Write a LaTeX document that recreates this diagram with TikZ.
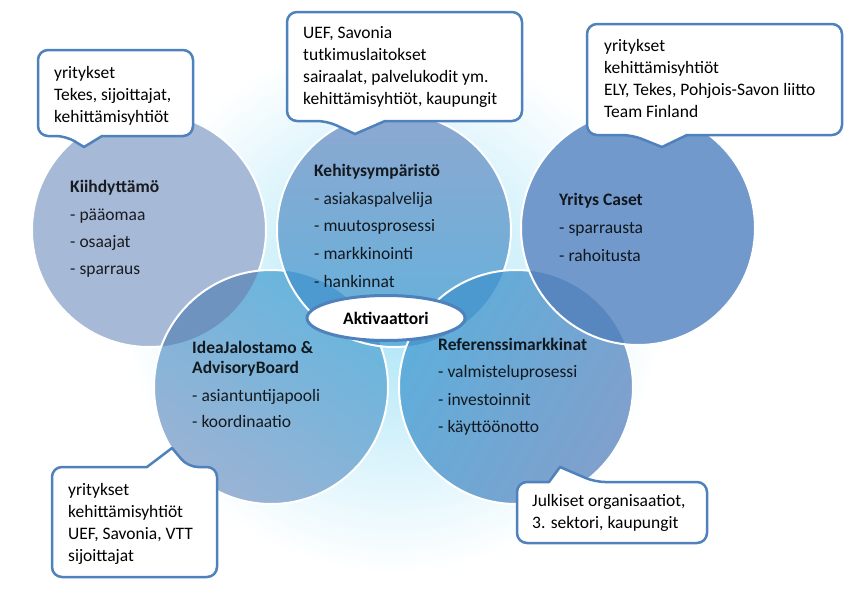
\documentclass[tikz,border=0pt]{standalone}
\usepackage{fontspec}
\setmainfont{Carlito}
\usetikzlibrary{shapes.geometric}
\definecolor{notecol}{HTML}{4F81BD}
\definecolor{glowcol}{HTML}{A9E4F7}
\definecolor{kiihcol}{HTML}{A6B9D6}
\definecolor{kehitop}{HTML}{8CA8D0}
\definecolor{kehibot}{HTML}{62B2DD}
\definecolor{yritcol}{HTML}{7199CB}
\definecolor{ideatop}{HTML}{66B5DE}
\definecolor{ideabot}{HTML}{9AB3D4}
\definecolor{refetop}{HTML}{5FAEDB}
\definecolor{refebot}{HTML}{80A0CC}
\definecolor{kiihidea}{HTML}{6E93BF}
\definecolor{ideakehi}{HTML}{4C9ACF}
\definecolor{kehirefe}{HTML}{4B99CE}
\definecolor{refeyrit}{HTML}{5886BF}
\begin{document}
\begin{tikzpicture}[x=1pt,y=-1pt,
  ring/.style={draw=white,line width=2pt},
  note/.style={draw=notecol,line width=2.5pt,fill=white,line join=round},
  notetext/.style={anchor=base west,align=left,inner sep=0pt,font=\fontsize{17.5}{21.7}\selectfont},
  circtext/.style={anchor=base west,align=left,inner sep=0pt,text opacity=0.85,font=\fontsize{17.5}{20}\selectfont}]
\useasboundingbox (0,0) rectangle (862,589);
\shade[inner color=glowcol,outer color=white] (394,305) circle (270);

% circles, back to front
\fill[kiihcol] (149,230) circle (117);
\draw[ring] (149,230) circle (117);

\shade[top color=ideatop,bottom color=ideabot,shading angle=-35] (271,387) circle (117);
\begin{scope}
  \clip (271,387) circle (117);
  \fill[kiihidea] (149,230) circle (117);
\end{scope}
\draw[ring] (271,387) circle (117);

\shade[top color=kehitop,bottom color=kehibot] (394,230) circle (117);
\begin{scope}
  \clip (394,230) circle (117);
  \fill[ideakehi] (271,387) circle (117);
\end{scope}
\draw[ring] (394,230) circle (117);

\shade[top color=refetop,bottom color=refebot,shading angle=60] (516,387) circle (117);
\begin{scope}
  \clip (516,387) circle (117);
  \fill[kehirefe] (394,230) circle (117);
\end{scope}
\draw[ring] (516,387) circle (117);

\fill[yritcol] (638,228) circle (117);
\begin{scope}
  \clip (638,228) circle (117);
  \fill[refeyrit] (516,387) circle (117);
\end{scope}
\draw[ring] (638,228) circle (117);

% texts sit on the baseline of their last line
\node[circtext] (kiih) at (70,274) {\textbf{Kiihdyttämö}\\[8pt]- pääomaa\\[7pt]- osaajat\\[7pt]- sparraus};
\node[circtext] (kehi) at (314,287) {\textbf{Kehitysympäristö}\\[8pt]- asiakaspalvelija\\[7.5pt]- muutosprosessi\\[8pt]- markkinointi\\[7.5pt]- hankinnat};
\node[circtext] (yrit) at (559,261) {\textbf{Yritys Caset}\\[8pt]- sparrausta\\[8pt]- rahoitusta};
\node[circtext] (idea) at (192,427) {\textbf{IdeaJalostamo \&}\\\textbf{AdvisoryBoard}\\[8pt]- asiantuntijapooli\\[6pt]- koordinaatio};
\node[circtext] (refe) at (438,432) {\textbf{Referenssimarkkinat}\\[7pt]- valmisteluprosessi\\[8pt]- investoinnit\\[7pt]- käyttöönotto};

\node[ellipse,draw=notecol,line width=3pt,fill=white,minimum width=158,minimum height=45,inner sep=0pt,
  font=\fontsize{17.5}{20}\selectfont\bfseries] (akt) at (386,318) {Aktivaattori};

% callouts
\draw[note] (84,147) -- (102,136) [rounded corners=10] -- (193,136) -- (193,50) -- (38,50) -- (38,136) -- (66,136) [sharp corners] -- cycle;
\draw[note] (355,134) -- (385,121) [rounded corners=10] -- (522,121) -- (522,12) -- (287,12) -- (287,121) -- (327,121) [sharp corners] -- cycle;
\draw[note] (662,147) -- (687,135) [rounded corners=10] -- (842,135) -- (842,24) -- (587,24) -- (587,135) -- (632,135) [sharp corners] -- cycle;
\draw[note] (172,448) -- (147,467) [rounded corners=10] -- (52,467) -- (52,577) -- (217,577) -- (217,467) -- (188,467) [sharp corners] -- cycle;
\draw[note] (560,467) -- (549,482) [rounded corners=10] -- (517,482) -- (517,543) -- (707,543) -- (707,482) -- (595,482) [sharp corners] -- cycle;

\node[notetext] (kiihnote) at (54,122) {yritykset\\Tekes, sijoittajat,\\kehittämisyhtiöt};
\node[notetext] (kehinote) at (303,104) {UEF, Savonia\\tutkimuslaitokset\\sairaalat, palvelukodit ym.\\kehittämisyhtiöt, kaupungit};
\node[notetext] (yritnote) at (604,117) {yritykset\\kehittämisyhtiöt\\ELY, Tekes, Pohjois-Savon liitto\\Team Finland};
\node[notetext] (ideanote) at (68,561) {yritykset\\kehittämisyhtiöt\\UEF, Savonia, VTT\\sijoittajat};
\node[notetext] (refenote) at (532,528) {Julkiset organisaatiot,\\3. sektori, kaupungit};
\end{tikzpicture}
\end{document}
